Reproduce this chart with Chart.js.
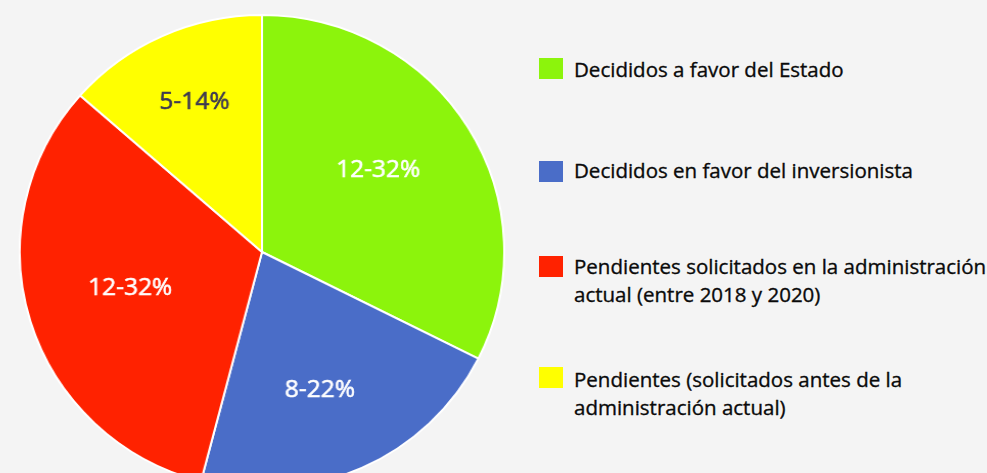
<!DOCTYPE html>
<html>
<head>
<meta charset="utf-8">
<script src="https://cdn.jsdelivr.net/npm/chart.js@4"></script>
<style>
  html, body { margin: 0; padding: 0; background: #f4f4f4; overflow: hidden; }
  #wrap { position: relative; width: 987px; height: 473px; }
  #pieBox { position: absolute; left: 24px; top: 14px; width: 476px; height: 476px; transform: scaleX(1.022); transform-origin: 50% 50%; }
  .leg { position: absolute; font-family: "Open Sans", sans-serif; font-size: 20.5px; line-height: 28px; color: #0a0a0a; -webkit-text-stroke: 0.35px #0a0a0a; white-space: nowrap; }
  .sw { position: absolute; width: 24px; height: 21px; }
</style>
</head>
<body>
<div id="wrap">
  <div id="pieBox"><canvas id="myChart"></canvas></div>
  <div id="legend"></div>
</div>
<script>
const labels = [
  ['Decididos a favor del Estado'],
  ['Decididos en favor del inversionista'],
  ['Pendientes solicitados en la administración', 'actual (entre 2018 y 2020)'],
  ['Pendientes (solicitados antes de la', 'administración actual)']
];
const casos = [12, 8, 12, 5];
const colores = ['#8cf40c', '#4a6dc8', '#ff2200', '#ffff00'];
const coloresTexto = ['#ffffff', '#ffffff', '#ffffff', '#3d3a52'];
// posición de cada etiqueta: fracción del radio y giro en grados
const etqRadio = [0.59, 0.63, 0.565, 0.69];
const etqGiro = [-4, 2, 1.5, 0.5];

// leyenda a la derecha
const legTop = [55, 156, 252, 365];
const swTop = [58, 161, 256, 367];
const legend = document.getElementById('legend');
labels.forEach((lab, i) => {
  const sw = document.createElement('div');
  sw.className = 'sw';
  sw.style.left = '539px';
  sw.style.top = swTop[i] + 'px';
  sw.style.background = colores[i];
  legend.appendChild(sw);
  const t = document.createElement('div');
  t.className = 'leg';
  t.style.left = '574px';
  t.style.top = legTop[i] + 'px';
  t.innerHTML = lab.join('<br>');
  legend.appendChild(t);
});

const total = casos.reduce((a, b) => a + b, 0);

// etiquetas "n-p%" dentro de cada porción
const etiquetas = {
  id: 'etiquetas',
  afterDatasetsDraw(chart) {
    const ctx = chart.ctx;
    const meta = chart.getDatasetMeta(0);
    ctx.save();
    ctx.font = '24px "Open Sans", sans-serif';
    ctx.textAlign = 'center';
    ctx.textBaseline = 'middle';
    ctx.lineWidth = 0.6;
    meta.data.forEach((arc, i) => {
      const mid = (arc.startAngle + arc.endAngle) / 2 + etqGiro[i] * Math.PI / 180;
      const r = arc.outerRadius * etqRadio[i];
      const x = arc.x + Math.cos(mid) * r;
      const y = arc.y + Math.sin(mid) * r;
      const pct = Math.round(casos[i] / total * 100);
      const txt = casos[i] + '-' + pct + '%';
      ctx.fillStyle = coloresTexto[i];
      ctx.strokeStyle = coloresTexto[i];
      ctx.fillText(txt, x, y);
      ctx.strokeText(txt, x, y);
    });
    ctx.restore();
  }
};

const ctx = document.getElementById('myChart').getContext('2d');
const myChart = new Chart(ctx, {
  type: 'pie',
  data: {
    labels: labels,
    datasets: [{
      data: casos,
      backgroundColor: colores,
      borderColor: '#ffffff',
      borderWidth: 2
    }]
  },
  options: {
    responsive: true,
    maintainAspectRatio: false,
    animation: false,
    layout: { padding: 0 },
    plugins: {
      legend: { display: false },
      tooltip: { enabled: false }
    }
  },
  plugins: [etiquetas]
});
</script>
</body>
</html>
